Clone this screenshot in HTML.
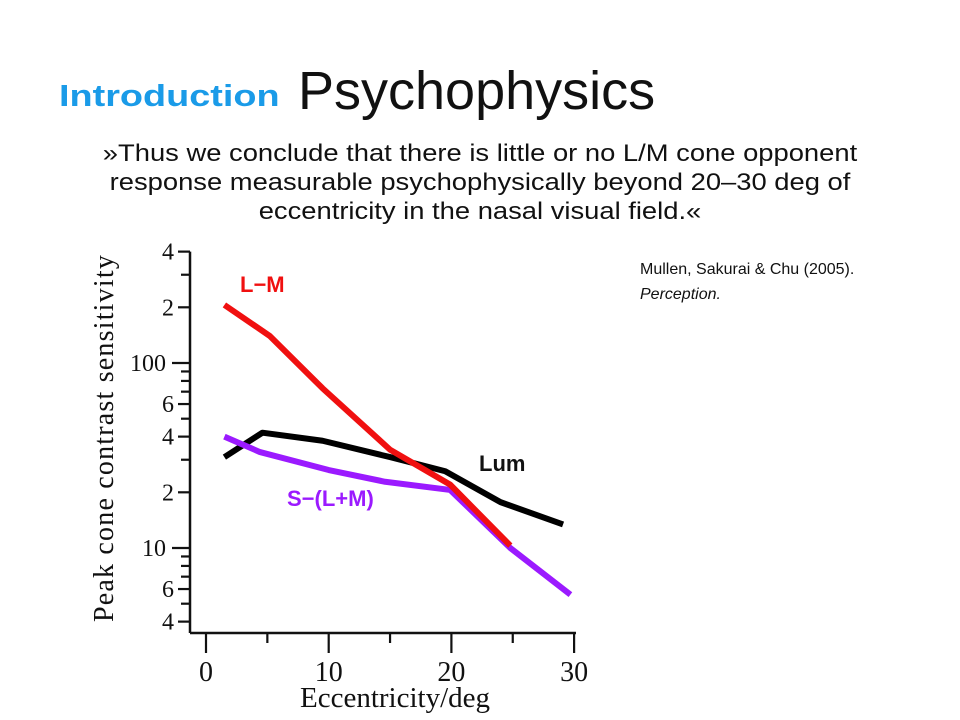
<!DOCTYPE html>
<html><head><meta charset="utf-8">
<style>
body{margin:0;background:#fff;}
#root{position:relative;width:960px;height:720px;overflow:hidden;background:#fff;font-family:"Liberation Sans",sans-serif;}
.t{position:absolute;white-space:nowrap;}
</style></head>
<body>
<div id="root">
<div class="t" style="left:59px;top:78px;font-size:31px;font-weight:bold;color:#1a9be8;transform:scaleX(1.22);transform-origin:0 0;">Introduction</div>
<div class="t" style="left:298px;top:60px;font-size:54px;color:#111;">Psychophysics</div>
<div style="position:absolute;left:80px;top:139px;width:800px;height:89px;overflow:hidden;text-align:center;font-size:24px;line-height:29px;color:#111;">
<div style="transform:scaleX(1.14);transform-origin:50% 0;">»Thus we conclude that there is little or no L/M cone opponent<br>response measurable psychophysically beyond 20–30 deg of<br>eccentricity in the nasal visual field.«</div></div>
<div class="t" style="left:640px;top:257px;font-size:16px;line-height:25px;color:#111;">Mullen, Sakurai &amp; Chu (2005).<br><i>Perception.</i></div>
<svg id="chart" width="960" height="720" style="position:absolute;left:0;top:0;"></svg>
</div>
<script>
const xTicks=[0,5,10,15,20,25,30];
const xTickLabels=[0,10,20,30];
const yTicks=[400,300,200,100,90,80,70,60,50,40,30,20,10,9,8,7,6,5,4];
const yTickLabels=[400,200,100,60,40,20,10,6,4];
const yLabelText={400:"4",200:"2",100:"100",60:"6",40:"4",20:"2",10:"10",6:"6",4:"4"};
const lmX=[1.5,5.2,9.5,15,19.9,24.8];
const lmY=[206,140,73,34,22,10.3];
const lumX=[1.5,4.6,9.5,15,19.5,24,29.1];
const lumY=[31,42,38,31,26,17.7,13.4];
const sX=[1.5,4.4,10,14.6,19.9,24.8,29.7];
const sY=[40,33,26.4,22.8,20.6,10,5.6];

const NS="http://www.w3.org/2000/svg";
const svg=document.getElementById('chart');
const xs=v=>206+v*12.27;
const ys=v=>363-185*Math.log10(v/100);
function mk(tag,attrs,parent){const e=document.createElementNS(NS,tag);for(const k in attrs)e.setAttribute(k,attrs[k]);(parent||svg).appendChild(e);return e;}
let ax=mk('line',{x1:190,y1:ys(400),x2:190,y2:633,stroke:'#111','stroke-width':2.5});


let bx=mk('line',{x1:190,y1:633,x2:576,y2:633,stroke:'#111','stroke-width':2.5});


yTicks.forEach(v=>{const major=(v===100||v===10);const lab=yTickLabels.includes(v);
 const len=major?18:(lab?12:9);
 const t=mk('line',{x1:190-len,y1:ys(v),x2:190,y2:ys(v),stroke:'#111','stroke-width':2.2});
 
 });
yTickLabels.forEach(v=>{const major=(v===100||v===10);
 const t=mk('text',{x:major?166:174,y:ys(v)+8,'text-anchor':'end','font-family':'Liberation Serif, serif','font-size':24,fill:'#111'});
 t.textContent=yLabelText[v];
 
 });
xTicks.forEach(v=>{const major=xTickLabels.includes(v);
 const t=mk('line',{x1:xs(v),y1:633,x2:xs(v),y2:major?653:643,stroke:'#111','stroke-width':2.2});
 
 });
xTickLabels.forEach(v=>{const t=mk('text',{x:xs(v),y:681,'text-anchor':'middle','font-family':'Liberation Serif, serif','font-size':28,fill:'#111'});
 t.textContent=v;
 
 });
let xt=mk('text',{x:395,y:707,'text-anchor':'middle','font-family':'Liberation Serif, serif','font-size':29,fill:'#111'});
xt.textContent='Eccentricity/deg';


let yt=mk('text',{x:0,y:0,transform:'translate(113,438) rotate(-90)','text-anchor':'middle','font-family':'Liberation Serif, serif','font-size':28,fill:'#111','letter-spacing':'1.2'});
yt.textContent='Peak cone contrast sensitivity';


function series(X,Y,color,name){const p=mk('polyline',{points:X.map((x,i)=>xs(x)+','+ys(Y[i])).join(' '),fill:'none',stroke:color,'stroke-width':6,'stroke-linejoin':'round'});
 
 }
series(lumX,lumY,'#000','lum-line');
series(sX,sY,'#9b1aff','s-lm-line');
series(lmX,lmY,'#f01010','l-m-line');
function lab(x,y,txt,color,name){const t=mk('text',{x:x,y:y,'font-family':'Liberation Sans, sans-serif','font-size':22,'font-weight':'bold',fill:color});
 t.textContent=txt;
 
 }
lab(240,292,'L\u2212M','#f01010','l-m-label');
lab(479,471,'Lum','#111','lum-label');
lab(287,506,'S\u2212(L+M)','#9b1aff','s-lm-label');
</script>
</body></html>
